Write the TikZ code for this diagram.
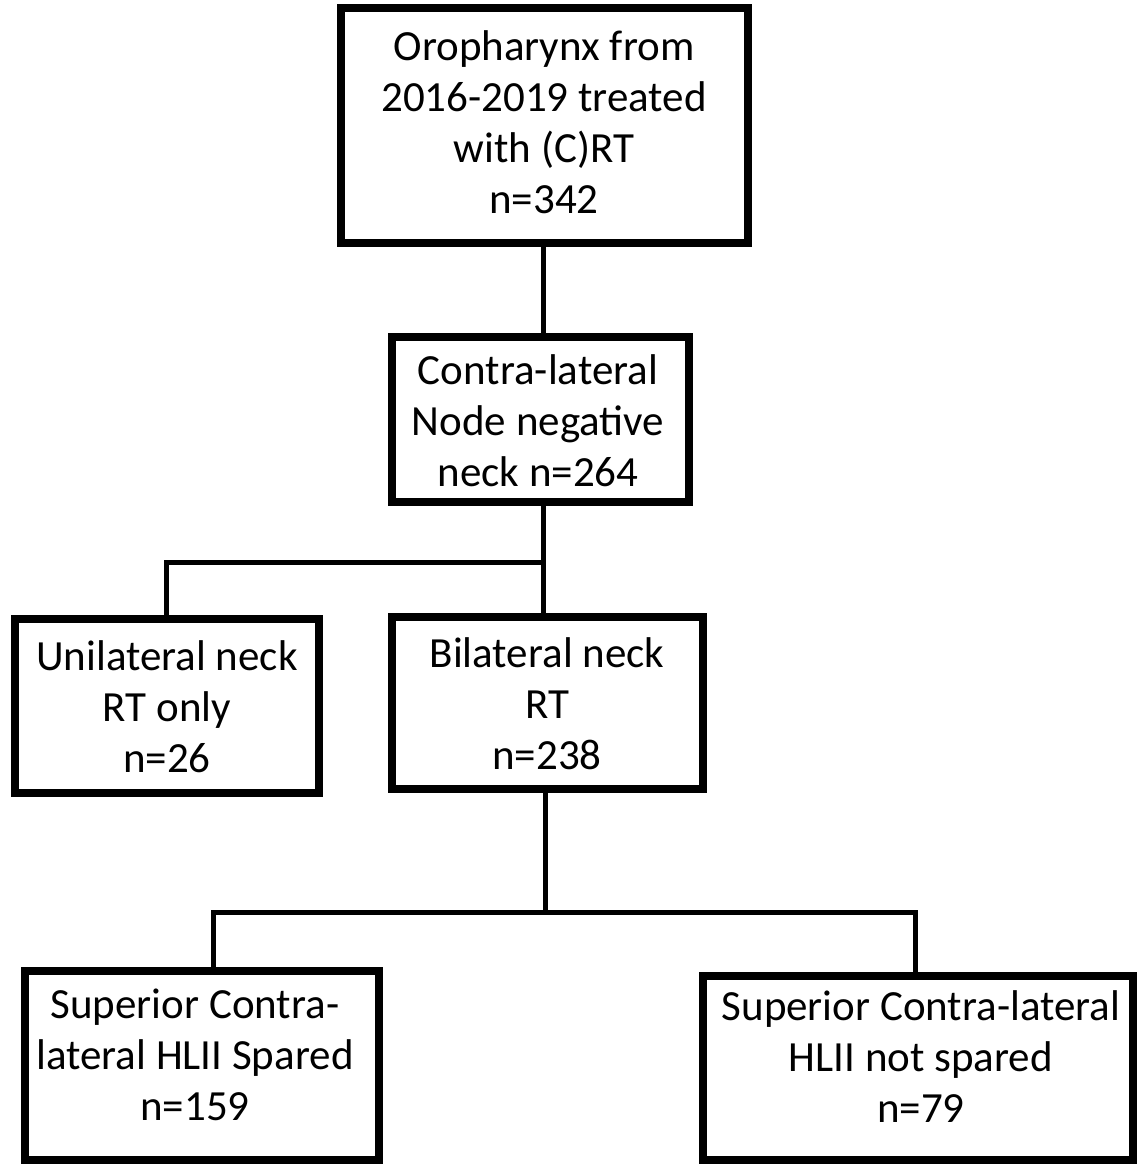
\documentclass[tikz,border=0pt]{standalone}
\usepackage{fontspec}
\setmainfont{Carlito}
\begin{document}
\begin{tikzpicture}[x=0.5pt,y=-0.5pt,
  box/.style={draw, line width=4pt, rectangle, inner sep=0pt, fill=white},
  txt/.style={align=center, font=\fontsize{21.5pt}{25.5pt}\selectfont, inner sep=0pt},
  conn/.style={line width=2.5pt, line join=miter}]
\useasboundingbox (0,0) rectangle (1138,1164);
% connectors first (boxes drawn over them)
\coordinate (j1) at (543,562);
\coordinate (l3) at (166,562);
\coordinate (j2) at (545,912);
\coordinate (l5) at (213,912);
\coordinate (r6) at (915,912);
% boxes
\node[box, minimum width=203.5pt, minimum height=117.5pt] (b1) at (544.5,125.5) {};
\node[box, minimum width=148.5pt, minimum height=82.5pt] (b2) at (540.5,419.5) {};
\node[box, minimum width=152pt, minimum height=87pt] (b3) at (167,706) {};
\node[box, minimum width=155.5pt, minimum height=86pt] (b4) at (547.5,703) {};
\node[box, minimum width=177pt, minimum height=94.5pt] (b5) at (202,1065.5) {};
\node[box, minimum width=215pt, minimum height=92pt] (b6) at (918,1068) {};
% texts
\node[txt] (t1) at (544,122) {Oropharynx from\\2016-2019 treated\\with (C)RT\\n=342};
\node[txt] (t2) at (538,421) {Contra-lateral\\Node negative\\neck n=264};
\node[txt] (t3) at (167,707) {Unilateral neck\\RT only\\n=26};
\node[txt] (t4) at (547,704) {Bilateral neck\\RT\\n=238};
\node[txt] (t5) at (195,1055) {Superior Contra-\\lateral HLII Spared\\n=159};
\node[txt] (t6) at (921,1057) {Superior Contra-lateral\\HLII not spared\\n=79};
% connectors
\draw[conn] (b1.south -| j1) -- (j1 |- b2.north);
\draw[conn] (b2.south -| j1) -- (j1 |- b4.north);
\draw[conn] (j1) -- (l3) -- (l3 |- b3.north);
\draw[conn] (b4.south -| j2) -- (j2);
\draw[conn] (l5 |- b5.north) -- (l5) -- (r6) -- (r6 |- b6.north);
\end{tikzpicture}
\end{document}
